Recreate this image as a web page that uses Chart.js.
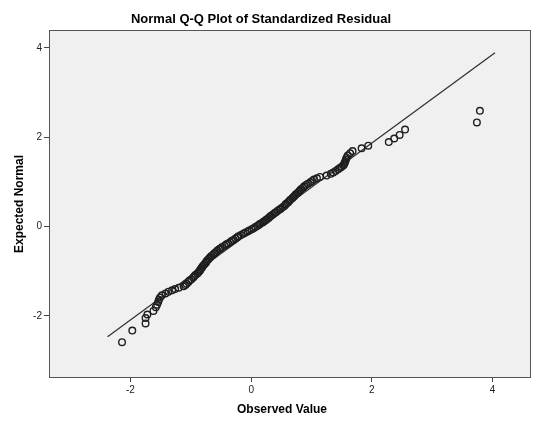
<!DOCTYPE html>
<html><head><meta charset="utf-8">
<script src="https://cdn.jsdelivr.net/npm/chart.js@4.4.1/dist/chart.umd.min.js"></script>
<style>html,body{margin:0;padding:0;background:#fff;}#wrap{width:537px;height:429px;}</style>
</head><body><div id="wrap"><canvas id="c" width="537" height="429"></canvas></div>
<script>
const chartTitle = 'Normal Q-Q Plot of Standardized Residual';
const xAxisTitle = 'Observed Value';
const yAxisTitle = 'Expected Normal';
const xTickValues = [-2, 0, 2, 4];
const yTickValues = [-2, 0, 2, 4];

const observedValue = [
 -2.14,-1.97,-1.75,-1.75,-1.72,-1.62,-1.58,-1.56,-1.54,-1.53,
 -1.51,-1.48,-1.42,-1.37,-1.31,-1.26,-1.20,-1.12,-1.09,-1.07,
 -1.04,-1.02,-0.99,-0.96,-0.94,-0.92,-0.89,-0.87,-0.85,-0.84,
 -0.82,-0.81,-0.79,-0.77,-0.75,-0.74,-0.72,-0.70,-0.68,-0.66,
 -0.63,-0.61,-0.58,-0.56,-0.53,-0.51,-0.48,-0.44,-0.41,-0.38,
 -0.35,-0.32,-0.29,-0.26,-0.23,-0.21,-0.17,-0.13,-0.10,-0.06,
 -0.03,0.01,0.04,0.07,0.10,0.13,0.15,0.19,0.21,0.24,
 0.26,0.29,0.31,0.33,0.36,0.39,0.41,0.44,0.47,0.49,
 0.52,0.55,0.57,0.58,0.61,0.63,0.65,0.68,0.70,0.72,
 0.74,0.77,0.79,0.81,0.83,0.86,0.88,0.91,0.94,0.98,
 1.01,1.04,1.09,1.14,1.25,1.32,1.36,1.40,1.44,1.47,
 1.50,1.53,1.54,1.55,1.56,1.57,1.58,1.60,1.64,1.68,
 1.83,1.94,2.28,2.37,2.46,2.55,3.74,3.79
];
const expectedNormal = [
 -2.59,-2.33,-2.17,-2.05,-1.97,-1.89,-1.81,-1.75,-1.69,-1.64,
 -1.59,-1.54,-1.50,-1.46,-1.43,-1.40,-1.37,-1.34,-1.31,-1.28,
 -1.24,-1.21,-1.18,-1.14,-1.11,-1.08,-1.05,-1.02,-0.99,-0.96,
 -0.93,-0.90,-0.87,-0.84,-0.81,-0.78,-0.75,-0.72,-0.69,-0.66,
 -0.63,-0.60,-0.57,-0.54,-0.51,-0.49,-0.46,-0.43,-0.40,-0.38,
 -0.35,-0.32,-0.30,-0.27,-0.24,-0.22,-0.19,-0.16,-0.14,-0.11,
 -0.09,-0.06,-0.04,-0.01,0.01,0.04,0.06,0.09,0.11,0.14,
 0.16,0.19,0.22,0.24,0.27,0.30,0.32,0.35,0.38,0.40,
 0.43,0.46,0.49,0.51,0.54,0.57,0.60,0.63,0.66,0.69,
 0.72,0.75,0.78,0.81,0.84,0.87,0.90,0.93,0.96,0.99,
 1.02,1.05,1.08,1.11,1.14,1.18,1.21,1.24,1.28,1.31,
 1.34,1.37,1.40,1.43,1.46,1.50,1.54,1.59,1.64,1.69,
 1.75,1.81,1.89,1.97,2.05,2.17,2.33,2.59
];
const lineObserved = [-2.38, 4.04];
const lineExpected = [-2.47, 3.89];

const pointData = observedValue.map((v, i) => ({x: v, y: expectedNormal[i]}));
const lineData = lineObserved.map((v, i) => ({x: v, y: lineExpected[i]}));

const frame = {
  id: 'frame',
  beforeDraw(chart) {
    const {ctx, chartArea: a} = chart;
    ctx.save();
    ctx.fillStyle = '#f0f0f0';
    ctx.fillRect(a.left, a.top, a.right - a.left, a.bottom - a.top);
    ctx.restore();
  },
  afterDatasetsDraw(chart) {
    const {ctx, chartArea: a} = chart;
    ctx.save();
    ctx.strokeStyle = '#555';
    ctx.lineWidth = 1;
    ctx.strokeRect(Math.round(a.left) + 0.5, Math.round(a.top) + 0.5, Math.round(a.right - a.left), Math.round(a.bottom - a.top));
    ctx.fillStyle = '#000';
    ctx.font = 'bold 13px "Liberation Sans", Arial, sans-serif';
    ctx.textAlign = 'center';
    ctx.textBaseline = 'middle';
    ctx.fillText(chartTitle, 261, 19);
    ctx.font = 'bold 12px "Liberation Sans", Arial, sans-serif';
    ctx.fillText(xAxisTitle, 282, 410);
    ctx.translate(20, 204);
    ctx.rotate(-Math.PI / 2);
    ctx.fillText(yAxisTitle, 0, 0);
    ctx.restore();
  }
};

const tickFont = {family: '"Liberation Sans", Arial, sans-serif', size: 10};

new Chart(document.getElementById('c'), {
  type: 'scatter',
  data: {
    datasets: [
      {
        type: 'line', data: lineData, borderColor: '#333', borderWidth: 1.3,
        pointRadius: 0, fill: false, order: 2
      },
      {
        data: pointData, pointStyle: 'circle', pointRadius: 3.3,
        backgroundColor: 'rgba(0,0,0,0)', borderColor: '#1e1e1e', borderWidth: 1.4,
        pointHoverRadius: 3.3, order: 1
      }
    ]
  },
  options: {
    responsive: false,
    animation: false,
    events: [],
    layout: {padding: {top: 30, right: 7, left: 0, bottom: 0}},
    plugins: {legend: {display: false}, title: {display: false}, tooltip: {enabled: false}},
    scales: {
      x: {
        type: 'linear', min: -3.35, max: 4.62,
        afterBuildTicks: s => { s.ticks = xTickValues.map(v => ({value: v})); },
        afterFit: s => { s.height = 52; },
        grid: {drawOnChartArea: false, drawTicks: true, tickLength: 5, color: '#444'},
        border: {display: true, color: '#555'},
        ticks: {font: tickFont, color: '#222', padding: 2, maxRotation: 0}
      },
      y: {
        type: 'linear', min: -3.37, max: 4.40,
        afterBuildTicks: s => { s.ticks = yTickValues.map(v => ({value: v})); },
        afterFit: s => { s.width = 49; },
        grid: {drawOnChartArea: false, drawTicks: true, tickLength: 5, color: '#444'},
        border: {display: true, color: '#555'},
        ticks: {font: tickFont, color: '#222', padding: 2}
      }
    }
  },
  plugins: [frame]
});
</script>
</body></html>
